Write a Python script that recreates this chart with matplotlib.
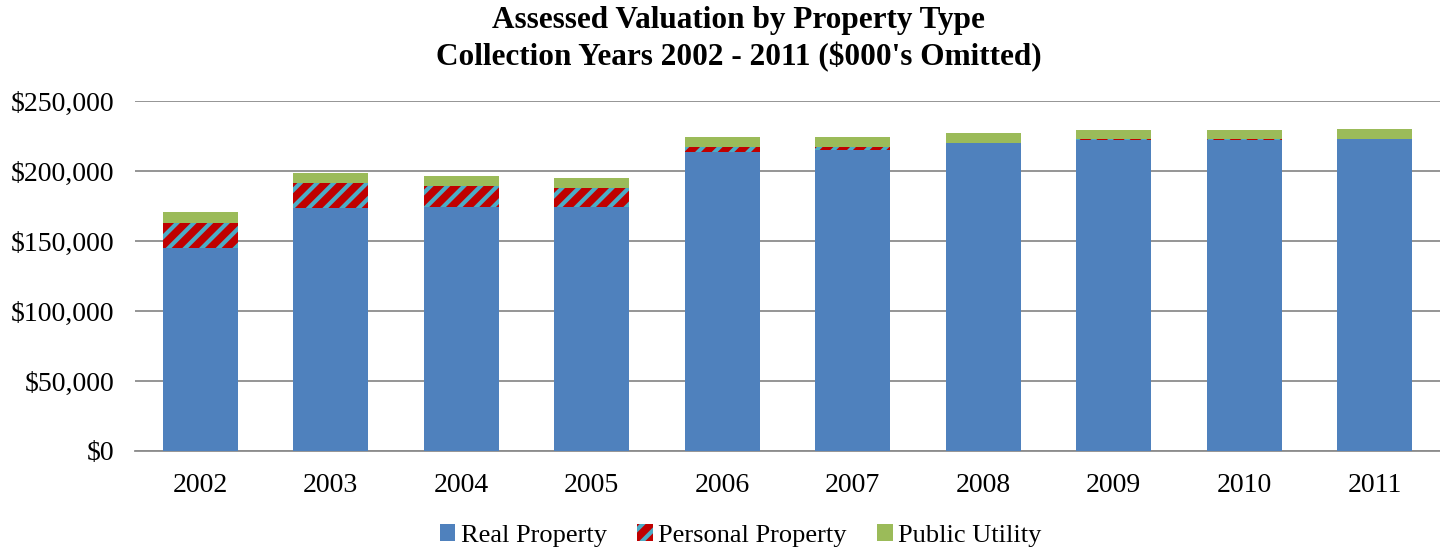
import numpy as np
import matplotlib
matplotlib.use("Agg")
import matplotlib.pyplot as plt
from matplotlib.ticker import FuncFormatter

years = ["2002", "2003", "2004", "2005", "2006", "2007", "2008", "2009", "2010", "2011"]
real_property = [145000, 173300, 174000, 174500, 213300, 214800, 220000, 222400, 222400, 222900]
personal_property = [17900, 18300, 15500, 13500, 4100, 2300, 200, 100, 100, 100]
public_utility = [7800, 7200, 6900, 6800, 6700, 7000, 7000, 6900, 6900, 6900]

plt.rcParams['font.family'] = ['Liberation Serif', 'DejaVu Serif']
plt.rcParams['hatch.linewidth'] = 3.0

fig = plt.figure(figsize=(14.4, 5.51), dpi=100)
ax = fig.add_axes([0.09375, 0.1815, 0.90625, 0.6352])

x = np.arange(len(years))
w = 0.575
real = np.array(real_property)
pers = np.array(personal_property)
util = np.array(public_utility)

ax.bar(x, real, w, color='#4F81BD', label='Real Property', zorder=3)
ax.bar(x, pers, w, bottom=real, facecolor='#C00000', edgecolor='#4BACC6',
       hatch='//', linewidth=0, label='Personal Property', zorder=3)
ax.bar(x, util, w, bottom=real + pers, color='#9BBB59', label='Public Utility', zorder=3)

ax.set_xlim(-0.5, len(years) - 0.5)
ax.set_ylim(0, 250000)
ax.set_yticks(np.arange(0, 250001, 50000))
ax.yaxis.set_major_formatter(FuncFormatter(lambda v, p: f"${v:,.0f}"))
ax.set_xticks(x)
ax.set_xticklabels(years)
ax.tick_params(axis='both', labelsize=20, length=0)
ax.tick_params(axis='x', pad=16)
ax.tick_params(axis='y', pad=15)
ax.grid(axis='y', color='#8C8C8C', linewidth=1.3, zorder=0)
for s in ['top', 'right', 'left']:
    ax.spines[s].set_visible(False)
ax.spines['bottom'].set_color('#8C8C8C')
ax.spines['bottom'].set_linewidth(1.3)

fig.suptitle("Assessed Valuation by Property Type\nCollection Years 2002 - 2011 ($000's Omitted)",
             fontsize=22.5, fontweight='bold', x=0.513, y=0.99, linespacing=1.3)

ax.legend(loc='center', bbox_to_anchor=(0.464, -0.242), ncol=3, frameon=False,
          fontsize=19, handlelength=0.6, handleheight=0.6, handletextpad=0.2,
          columnspacing=1.15)

fig.savefig("out.png", dpi=100)
